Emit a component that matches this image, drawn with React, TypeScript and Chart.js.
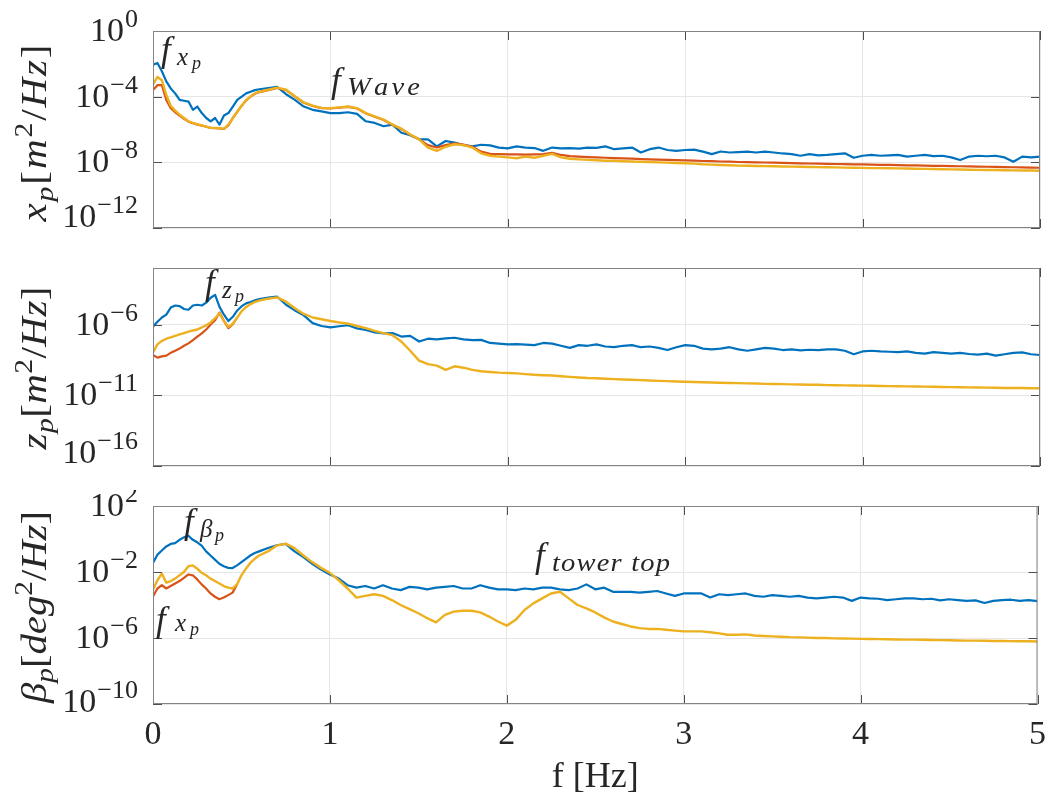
import React, { useEffect, useRef } from "react";
import { Chart, registerables } from "chart.js";
Chart.register(...registerables);

// ---------- data (log10 units) ----------
const FREQ = [
  0, 0.025, 0.05, 0.075, 0.1, 0.125, 0.15, 0.175, 0.2, 0.225, 0.25, 0.275, 0.3, 0.325, 0.35, 0.375, 0.4, 0.425, 0.45, 0.475, 0.5, 0.525, 0.55, 0.575, 0.6,
  0.65, 0.7, 0.75, 0.8, 0.85, 0.9, 0.95, 1.0,
  1.05, 1.1, 1.15, 1.2, 1.25, 1.3, 1.35, 1.4, 1.45, 1.5, 1.55, 1.6, 1.65, 1.7, 1.75, 1.8, 1.85, 1.9, 1.95, 2.0,
  2.05, 2.1, 2.15, 2.2, 2.25, 2.3, 2.35, 2.4, 2.45, 2.5, 2.55, 2.6, 2.65, 2.7, 2.75, 2.8, 2.85, 2.9, 2.95, 3.0,
  3.05, 3.1, 3.15, 3.2, 3.25, 3.3, 3.35, 3.4, 3.45, 3.5, 3.55, 3.6, 3.65, 3.7, 3.75, 3.8, 3.85, 3.9, 3.95, 4.0,
  4.05, 4.1, 4.15, 4.2, 4.25, 4.3, 4.35, 4.4, 4.45, 4.5, 4.55, 4.6, 4.65, 4.7, 4.75, 4.8, 4.85, 4.9, 4.95, 5.0,
];

const X_TICKS = [0, 1, 2, 3, 4, 5];

// x_p panel
const XP_BLUE = [
  -2.05, -1.95, -2.45, -3.07, -3.5, -3.8, -4.2, -4.25, -4.3, -4.8, -4.6, -5.0, -5.3, -5.5, -5.3, -5.7, -5.15, -5.0, -4.6, -4.2, -4.0, -3.8, -3.7, -3.6, -3.55,
  -3.48, -3.4, -3.85, -4.2, -4.6, -4.8, -4.9, -5.0,
  -5.0, -4.95, -5.05, -5.5, -5.6, -5.8, -5.7, -6.2, -6.35, -6.6, -6.6, -7.03, -6.7, -6.8, -6.95, -7.03, -6.93, -6.97, -7.1, -7.15,
  -7.03, -7.1, -7.13, -7.3, -7.1, -7.15, -7.13, -7.17, -7.1, -7.12, -7.03, -7.2, -7.15, -7.1, -7.4, -7.2, -7.1, -7.25, -7.3, -7.25,
  -7.23, -7.35, -7.5, -7.34, -7.4, -7.38, -7.35, -7.4, -7.35, -7.4, -7.46, -7.5, -7.6, -7.5, -7.58, -7.55, -7.5, -7.45, -7.72, -7.6,
  -7.55, -7.6, -7.58, -7.55, -7.65, -7.6, -7.55, -7.62, -7.6, -7.7, -7.86, -7.65, -7.6, -7.63, -7.6, -7.7, -7.96, -7.65, -7.7, -7.65,
];
const XP_RED = [
  -3.6, -3.3, -3.3, -4.2, -4.7, -4.95, -5.15, -5.35, -5.52, -5.62, -5.7, -5.76, -5.83, -5.9, -5.92, -5.94, -5.97, -5.75, -5.3, -4.92, -4.55, -4.22, -4.0, -3.82, -3.72,
  -3.6, -3.47, -3.6, -4.0, -4.37, -4.57, -4.7, -4.72,
  -4.67, -4.62, -4.72, -5.02, -5.22, -5.42, -5.72, -5.97, -6.32, -6.6, -6.95, -7.1, -6.95, -6.85, -6.92, -7.05, -7.35, -7.48, -7.5, -7.52,
  -7.52, -7.53, -7.52, -7.5, -7.42, -7.55, -7.62, -7.65, -7.68, -7.7, -7.72, -7.74, -7.76, -7.78, -7.8, -7.82, -7.84, -7.85, -7.87, -7.88,
  -7.9, -7.92, -7.93, -7.95, -7.96, -7.98, -7.99, -8.0, -8.01, -8.02, -8.03, -8.05, -8.06, -8.07, -8.08, -8.09, -8.1, -8.11, -8.12, -8.13,
  -8.14, -8.15, -8.16, -8.17, -8.18, -8.19, -8.2, -8.21, -8.22, -8.23, -8.24, -8.25, -8.26, -8.27, -8.28, -8.29, -8.3, -8.31, -8.32, -8.33,
];
const XP_YELLOW = [
  -3.27, -2.8, -3.0, -3.9, -4.55, -4.85, -5.1, -5.3, -5.5, -5.6, -5.68, -5.75, -5.82, -5.9, -5.9, -5.92, -5.95, -5.7, -5.3, -4.9, -4.55, -4.2, -3.98, -3.8, -3.7,
  -3.58, -3.45, -3.58, -3.98, -4.35, -4.55, -4.68, -4.7,
  -4.65, -4.6, -4.7, -5.0, -5.2, -5.4, -5.7, -5.95, -6.3, -6.6, -7.1, -7.3, -7.05, -6.9, -6.95, -7.1, -7.45, -7.6, -7.65, -7.7,
  -7.75, -7.65, -7.72, -7.6, -7.48, -7.7, -7.78, -7.82, -7.85, -7.87, -7.9, -7.9, -7.93, -7.95, -7.97, -7.98, -8.0, -8.02, -8.04, -8.06,
  -8.08, -8.12, -8.14, -8.16, -8.18, -8.2, -8.21, -8.22, -8.23, -8.24, -8.25, -8.26, -8.27, -8.28, -8.29, -8.3, -8.31, -8.32, -8.33, -8.34,
  -8.35, -8.35, -8.36, -8.37, -8.38, -8.39, -8.4, -8.41, -8.42, -8.43, -8.44, -8.45, -8.46, -8.47, -8.47, -8.48, -8.49, -8.5, -8.5, -8.51,
];

// z_p panel
const ZP_BLUE = [
  -6.15, -5.8, -5.5, -5.3, -4.8, -4.65, -4.7, -4.9, -4.95, -4.65, -4.6, -4.65, -4.45, -4.1, -3.9, -4.75, -5.3, -5.75, -5.45, -5.0, -4.7, -4.5, -4.4, -4.28, -4.2,
  -4.1, -4.03, -4.6, -5.0, -5.35, -5.9, -6.1, -6.2,
  -6.12, -6.05, -6.27, -6.38, -6.55, -6.62, -6.6, -6.85, -6.8, -7.2, -7.0, -7.05, -6.98, -6.93, -7.05, -7.1, -7.08, -7.3, -7.35, -7.4,
  -7.38, -7.42, -7.45, -7.3, -7.35, -7.5, -7.65, -7.45, -7.5, -7.4, -7.55, -7.6, -7.5, -7.45, -7.6, -7.55, -7.65, -7.8, -7.6, -7.45,
  -7.5, -7.7, -7.75, -7.7, -7.6, -7.75, -7.85, -7.75, -7.65, -7.7, -7.8, -7.75, -7.82, -7.78, -7.8, -7.75, -7.75, -7.85, -8.1, -7.9,
  -7.85, -7.9, -7.92, -7.95, -7.9, -8.0, -8.05, -7.95, -8.0, -8.05, -8.0, -8.08, -8.12, -8.05, -8.2, -8.1, -8.0, -7.97, -8.1, -8.15,
];
const ZP_RED = [
  -8.15, -8.34, -8.25, -8.2, -8.0, -7.85, -7.7, -7.5, -7.33, -7.1, -6.85, -6.62, -6.35, -6.0, -5.7, -5.15, -5.75, -6.25, -5.97, -5.5,
];
const ZP_YELLOW = [
  -7.97, -7.4, -7.15, -7.0, -6.9, -6.8, -6.7, -6.6, -6.5, -6.42, -6.35, -6.2, -6.05, -5.85, -5.55, -5.2, -5.75, -6.15, -5.95, -5.5, -5.05, -4.75, -4.55, -4.4, -4.3,
  -4.17, -4.08, -4.38, -4.85, -5.25, -5.5, -5.62, -5.75,
  -5.85, -5.93, -6.1, -6.25, -6.45, -6.6, -6.75, -7.2, -7.85, -8.55, -8.8, -8.9, -9.2, -8.95, -9.05, -9.2, -9.3, -9.35, -9.4, -9.42,
  -9.45, -9.5, -9.55, -9.58, -9.6, -9.65, -9.7, -9.74, -9.78, -9.8, -9.83, -9.86, -9.88, -9.9, -9.93, -9.95, -9.98, -10.0, -10.02, -10.04,
  -10.06, -10.08, -10.1, -10.11, -10.13, -10.14, -10.16, -10.17, -10.19, -10.2, -10.21, -10.23, -10.24, -10.25, -10.26, -10.28, -10.29, -10.3, -10.31, -10.32,
  -10.33, -10.34, -10.35, -10.36, -10.37, -10.38, -10.39, -10.4, -10.41, -10.42, -10.43, -10.44, -10.45, -10.46, -10.47, -10.48, -10.48, -10.49, -10.5, -10.5,
];

// beta_p panel
const BP_BLUE = [
  -1.45, -0.95, -0.7, -0.45, -0.3, -0.25, -0.05, 0.1, 0.2, -0.05, -0.2, -0.4, -0.75, -1.0, -1.25, -1.5, -1.65, -1.75, -1.76, -1.6, -1.4, -1.2, -1.0, -0.85, -0.75,
  -0.55, -0.38, -0.3, -0.75, -1.1, -1.5, -1.85, -2.15,
  -2.4, -2.8, -2.95, -2.85, -3.0, -2.8, -3.0, -3.1, -2.9, -2.95, -3.05, -2.95, -2.9, -2.85, -3.0, -3.0, -2.8, -2.95, -3.05, -3.05,
  -3.1, -3.0, -3.05, -2.95, -2.95, -3.05, -3.1, -3.0, -2.75, -3.05, -2.95, -3.2, -3.2, -3.2, -3.25, -3.2, -3.15, -3.3, -3.45, -3.3,
  -3.3, -3.3, -3.55, -3.35, -3.4, -3.35, -3.3, -3.45, -3.5, -3.4, -3.45, -3.5, -3.45, -3.55, -3.6, -3.55, -3.5, -3.55, -3.75, -3.55,
  -3.6, -3.62, -3.7, -3.65, -3.6, -3.6, -3.65, -3.62, -3.72, -3.65, -3.7, -3.75, -3.72, -3.88, -3.75, -3.7, -3.68, -3.75, -3.7, -3.77,
];
const BP_RED = [
  -3.48, -3.0, -2.8, -3.0, -2.85, -2.7, -2.55, -2.35, -2.15, -2.2, -2.45, -2.75, -3.0, -3.3, -3.5, -3.65, -3.55, -3.4, -3.25, -2.75,
];
const BP_YELLOW = [
  -3.07, -2.5, -2.1, -2.65, -2.55, -2.4, -2.2, -2.0, -1.65, -1.6, -1.8, -2.05, -2.2, -2.4, -2.55, -2.7, -2.85, -2.95, -3.0, -2.75, -2.2, -1.8, -1.45, -1.2, -1.0,
  -0.75, -0.4, -0.28, -0.55, -1.0, -1.4, -1.75, -2.05,
  -2.5, -3.0, -3.55, -3.45, -3.35, -3.45, -3.7, -4.0, -4.25, -4.5, -4.8, -5.05, -4.6, -4.4, -4.35, -4.35, -4.45, -4.7, -5.0, -5.25,
  -4.9, -4.3, -3.9, -3.6, -3.3, -3.2, -3.6, -4.0, -4.2, -4.45, -4.75, -5.0, -5.15, -5.3, -5.4, -5.45, -5.45, -5.5, -5.55, -5.6,
  -5.6, -5.6, -5.65, -5.72, -5.8, -5.8, -5.78, -5.85, -5.88, -5.9, -5.92, -5.95, -5.96, -5.98, -6.0, -6.0, -6.02, -6.03, -6.04, -6.05,
  -6.06, -6.07, -6.08, -6.09, -6.1, -6.1, -6.11, -6.12, -6.13, -6.14, -6.15, -6.16, -6.16, -6.17, -6.18, -6.18, -6.19, -6.2, -6.2, -6.21,
];

// y tick exponents
const XP_TICKS = [-12, -8, -4, 0];
const ZP_TICKS = [-16, -11, -6];
const BP_TICKS = [-10, -6, -2, 2];

// ---------- styling ----------
const FONT = '"Liberation Serif", "Times New Roman", serif';
const TEXT = "#262626";
const GRID = "#e6e6e6";
const FRAME = "#858585";
const BLUE = "#0072BD";
const RED = "#D95319";
const YELLOW = "#EDB120";
const W = 1057;
const AREA_LEFT = 153;
const AREA_RIGHT = 1040;

type Seg = { t: string; s: number; it?: boolean; dy?: number };
type Piece = { t: string; x: number; y: number; s: number; it?: boolean; w?: number };

function fontOf(s: number, it?: boolean) {
  return `${it ? "italic " : ""}${s}px ${FONT}`;
}

// draws a run of text pieces; if a target width is given, glyphs are widened
// a little (like the wider TeX math italic) and the rest is made up with spacing
function drawSegs(ctx: CanvasRenderingContext2D, segs: Seg[], x: number, y: number, target?: number) {
  const chars: { ch: string; s: number; it?: boolean; dy: number; w: number }[] = [];
  for (const sg of segs) {
    for (const ch of Array.from(sg.t)) {
      ctx.font = fontOf(sg.s, sg.it);
      chars.push({ ch, s: sg.s, it: sg.it, dy: sg.dy || 0, w: ctx.measureText(ch).width });
    }
  }
  const natural = chars.reduce((a, c) => a + c.w, 0);
  let k = 1;
  let gap = 0;
  if (target && natural > 0) {
    k = Math.min(Math.max(target / natural, 1), 1.14);
    gap = chars.length > 1 ? (target - natural * k) / (chars.length - 1) : 0;
  }
  ctx.save();
  ctx.translate(x, y);
  ctx.scale(k, 1);
  let cx = 0;
  for (const c of chars) {
    ctx.font = fontOf(c.s, c.it);
    ctx.fillText(c.ch, cx, c.dy);
    cx += c.w + gap / k;
  }
  ctx.restore();
}

type Panel = {
  top: number;
  height: number;
  areaTop: number;
  xHeight: number;
  yMin: number;
  yMax: number;
  yTicks: number[];
  lowLift: number;
  showX: boolean;
  series: { freq: number[]; logs: number[]; color: string; width: number }[];
  title: Seg[];
  titleWidth: number;
  titleCenter: number;
  titleBase: number;
  notes: Piece[];
};

const PANELS: Panel[] = [
  {
    top: 0,
    height: 250,
    areaTop: 31,
    xHeight: 22,
    yMin: -12,
    yMax: 0,
    yTicks: XP_TICKS,
    lowLift: 11,
    showX: false,
    series: [
      { freq: FREQ, logs: XP_YELLOW, color: YELLOW, width: 2.4 },
      { freq: FREQ, logs: XP_RED, color: RED, width: 2.2 },
      { freq: FREQ, logs: XP_BLUE, color: BLUE, width: 2.2 },
    ],
    title: [
      { t: "x", s: 36, it: true },
      { t: "p", s: 26, it: true, dy: 7 },
      { t: "[", s: 36 },
      { t: "m", s: 36, it: true },
      { t: "2", s: 26, dy: -14 },
      { t: "/", s: 36 },
      { t: "Hz", s: 36, it: true },
      { t: "]", s: 36 },
    ],
    titleWidth: 177,
    titleCenter: 133,
    titleBase: 46,
    notes: [
      { t: "f", x: 161, y: 61, s: 35, it: true },
      { t: "x", x: 177, y: 65, s: 25, it: true },
      { t: "p", x: 192, y: 69, s: 18, it: true },
      { t: "f", x: 331, y: 92, s: 35, it: true },
      { t: "Wave", x: 347, y: 95, s: 25, it: true, w: 73 },
    ],
  },
  {
    top: 250,
    height: 240,
    areaTop: 18,
    xHeight: 24,
    yMin: -16,
    yMax: -2,
    yTicks: ZP_TICKS,
    lowLift: 13,
    showX: false,
    series: [
      { freq: FREQ, logs: ZP_YELLOW, color: YELLOW, width: 2.4 },
      { freq: FREQ, logs: ZP_RED, color: RED, width: 2.2 },
      { freq: FREQ, logs: ZP_BLUE, color: BLUE, width: 2.2 },
    ],
    title: [
      { t: "z", s: 36, it: true },
      { t: "p", s: 26, it: true, dy: 7 },
      { t: "[", s: 36 },
      { t: "m", s: 36, it: true },
      { t: "2", s: 26, dy: -14 },
      { t: "/", s: 36 },
      { t: "Hz", s: 36, it: true },
      { t: "]", s: 36 },
    ],
    titleWidth: 163,
    titleCenter: 368,
    titleBase: 46,
    notes: [
      { t: "f", x: 205, y: 294, s: 35, it: true },
      { t: "z", x: 222, y: 298, s: 25, it: true },
      { t: "p", x: 235, y: 302, s: 18, it: true },
    ],
  },
  {
    top: 490,
    height: 309,
    areaTop: 16,
    xHeight: 95,
    yMin: -10,
    yMax: 2,
    yTicks: BP_TICKS,
    lowLift: 2,
    showX: true,
    series: [
      { freq: FREQ, logs: BP_YELLOW, color: YELLOW, width: 2.4 },
      { freq: FREQ, logs: BP_RED, color: RED, width: 2.2 },
      { freq: FREQ, logs: BP_BLUE, color: BLUE, width: 2.2 },
    ],
    title: [
      { t: "β", s: 36, it: true },
      { t: "p", s: 26, it: true, dy: 7 },
      { t: "[", s: 36 },
      { t: "deg", s: 36, it: true },
      { t: "2", s: 26, dy: -14 },
      { t: "/", s: 36 },
      { t: "Hz", s: 36, it: true },
      { t: "]", s: 36 },
    ],
    titleWidth: 192,
    titleCenter: 607,
    titleBase: 46,
    notes: [
      { t: "f", x: 184, y: 533, s: 35, it: true },
      { t: "β", x: 200, y: 537, s: 25, it: true },
      { t: "p", x: 215, y: 541, s: 18, it: true },
      { t: "f", x: 156, y: 631, s: 35, it: true },
      { t: "x", x: 175, y: 631, s: 25, it: true },
      { t: "p", x: 190, y: 635, s: 18, it: true },
      { t: "f", x: 535, y: 567, s: 35, it: true },
      { t: "tower top", x: 552, y: 571, s: 25, it: true, w: 118 },
    ],
  },
];

function toPoints(freq: number[], logs: number[]) {
  return logs.map((v, i) => ({ x: freq[i], y: Math.pow(10, v) }));
}

function makePlugin(p: Panel) {
  return {
    id: "matlabFrame",
    afterDatasetsDraw(chart: any) {
      const { ctx, chartArea: a } = chart;
      const xs = chart.scales.x;
      const ys = chart.scales.y;
      ctx.save();
      ctx.strokeStyle = "#4d4d4d";
      ctx.lineWidth = 1;
      ctx.beginPath();
      for (const v of X_TICKS) {
        const px = Math.round(xs.getPixelForValue(v)) + 0.5;
        ctx.moveTo(px, a.bottom);
        ctx.lineTo(px, a.bottom - 9);
        ctx.moveTo(px, a.top);
        ctx.lineTo(px, a.top + 9);
      }
      for (const e of p.yTicks) {
        const py = Math.round(ys.getPixelForValue(Math.pow(10, e))) + 0.5;
        ctx.moveTo(a.left, py);
        ctx.lineTo(a.left + 9, py);
        ctx.moveTo(a.right, py);
        ctx.lineTo(a.right - 9, py);
      }
      ctx.stroke();
      ctx.strokeStyle = FRAME;
      ctx.strokeRect(a.left + 0.5, a.top + 0.5, a.right - a.left - 1, a.bottom - a.top - 1);
      ctx.restore();
    },
    afterDraw(chart: any) {
      const { ctx } = chart;
      const ys = chart.scales.y;
      ctx.save();
      ctx.fillStyle = TEXT;
      ctx.textBaseline = "alphabetic";
      ctx.textAlign = "left";
      // y tick labels 10^e
      const lowest = Math.min(...p.yTicks);
      for (const e of p.yTicks) {
        const py = ys.getPixelForValue(Math.pow(10, e));
        const base = py + 10 - (e === lowest ? p.lowLift : 0);
        const exp = e < 0 ? "\u2212" + String(-e) : String(e);
        ctx.font = fontOf(34);
        const w1 = ctx.measureText("10").width;
        ctx.font = fontOf(26);
        const w2 = ctx.measureText(exp).width;
        const x0 = 138 - w1 - w2 - 1;
        ctx.font = fontOf(34);
        ctx.fillText("10", x0, base);
        ctx.font = fontOf(26);
        ctx.fillText(exp, x0 + w1 + 1, base - 14);
      }
      // rotated y title
      ctx.save();
      ctx.translate(p.titleBase, p.titleCenter - p.top);
      ctx.rotate(-Math.PI / 2);
      drawSegs(ctx, p.title, -p.titleWidth / 2, 0, p.titleWidth);
      ctx.restore();
      // annotations
      for (const n of p.notes) {
        drawSegs(ctx, [{ t: n.t, s: n.s, it: n.it }], n.x, n.y - p.top, n.w);
      }
      ctx.restore();
    },
  };
}

function makeConfig(p: Panel): any {
  return {
    type: "line",
    data: {
      datasets: p.series.map((s) => ({
        data: toPoints(s.freq, s.logs),
        borderColor: s.color,
        backgroundColor: s.color,
        borderWidth: s.width,
        pointRadius: 0,
        fill: false,
        tension: 0,
        borderJoinStyle: "round",
      })),
    },
    options: {
      responsive: false,
      maintainAspectRatio: false,
      animation: false,
      events: [],
      layout: { padding: { left: 0, right: W - AREA_RIGHT, top: p.areaTop, bottom: 0 } },
      plugins: { legend: { display: false }, tooltip: { enabled: false } },
      scales: {
        x: {
          type: "linear",
          min: 0,
          max: 5,
          afterBuildTicks: (s: any) => {
            s.ticks = X_TICKS.map((v) => ({ value: v }));
          },
          afterFit: (s: any) => {
            s.height = p.xHeight;
          },
          grid: { color: GRID, lineWidth: 1, drawTicks: false },
          border: { display: false },
          ticks: {
            display: p.showX,
            padding: 11,
            color: TEXT,
            font: { family: FONT, size: 34 },
            maxRotation: 0,
            autoSkip: false,
          },
          title: {
            display: p.showX,
            text: "f [Hz]",
            color: TEXT,
            font: { family: FONT, size: 36 },
            padding: { top: 0, bottom: 0 },
          },
        },
        y: {
          type: "logarithmic",
          min: Math.pow(10, p.yMin),
          max: Math.pow(10, p.yMax),
          afterBuildTicks: (s: any) => {
            s.ticks = p.yTicks.map((e) => ({ value: Math.pow(10, e) }));
          },
          afterFit: (s: any) => {
            s.width = AREA_LEFT;
          },
          grid: { color: GRID, lineWidth: 1, drawTicks: false },
          border: { display: false },
          ticks: { display: false },
        },
      },
    },
    plugins: [makePlugin(p)],
  };
}

export default function App() {
  const r0 = useRef<HTMLCanvasElement | null>(null);
  const r1 = useRef<HTMLCanvasElement | null>(null);
  const r2 = useRef<HTMLCanvasElement | null>(null);
  const refs = [r0, r1, r2];

  useEffect(() => {
    const charts = PANELS.map((p, i) => new Chart(refs[i].current as HTMLCanvasElement, makeConfig(p)));
    return () => charts.forEach((c) => c.destroy());
  }, []);

  return (
    <div style={{ position: "fixed", left: 0, top: 0, width: W, height: 799, background: "#fff" }}>
      {PANELS.map((p, i) => (
        <canvas
          key={i}
          ref={refs[i]}
          width={W}
          height={p.height}
          style={{ position: "absolute", left: 0, top: p.top, width: W, height: p.height }}
        />
      ))}
    </div>
  );
}
